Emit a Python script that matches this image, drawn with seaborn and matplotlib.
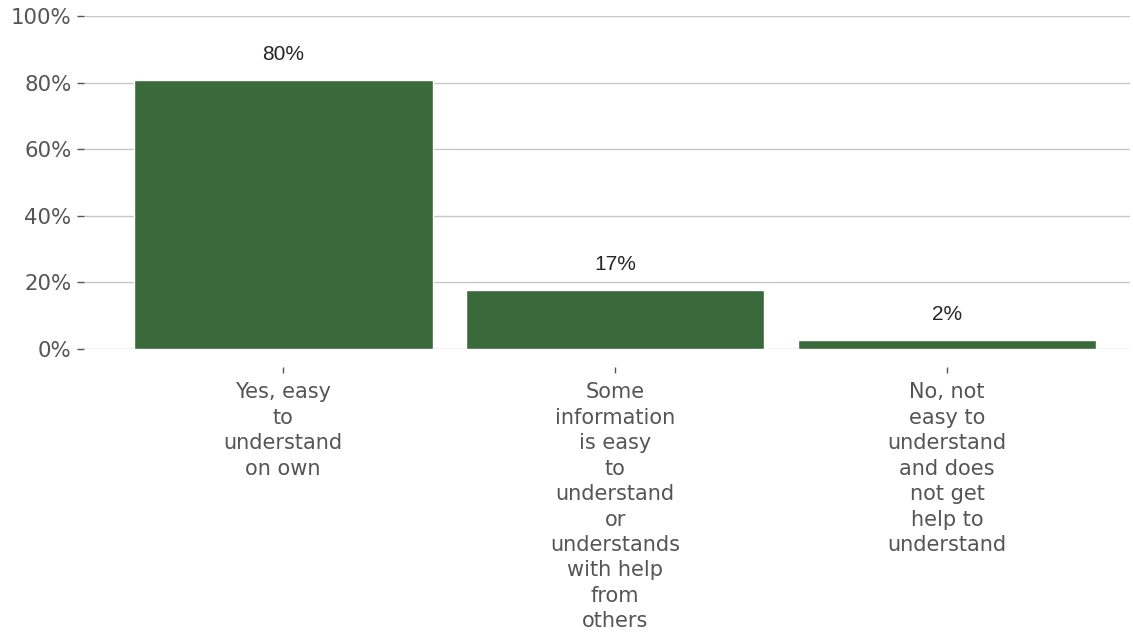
import matplotlib
matplotlib.use("Agg")
import pandas as pd
import seaborn as sns
import matplotlib.pyplot as plt
import matplotlib.ticker as ticker

categories = [
    "Yes, easy\nto\nunderstand\non own",
    "Some\ninformation\nis easy\nto\nunderstand\nor\nunderstands\nwith help\nfrom\nothers",
    "No, not\neasy to\nunderstand\nand does\nnot get\nhelp to\nunderstand",
]
values = [80.8, 17.7, 2.6]
value_labels = ["80%", "17%", "2%"]

df = pd.DataFrame({"category": categories, "share": values})

sns.set_style("white")
plt.rcParams["font.family"] = ["DejaVu Sans"]

fig = plt.figure(figsize=(11.33, 6.36), dpi=100)
ax = fig.add_axes([0.0741, 0.4513, 0.9229, 0.5237])

sns.barplot(data=df, x="category", y="share", color="#3a6a3c",
            width=0.9, saturation=1, ax=ax)

for i, (v, lab) in enumerate(zip(values, value_labels)):
    ax.text(i, v + 6, lab, ha="center", va="baseline", fontsize=15,
            color="#262626", family="Liberation Sans")

ax.set_ylim(0, 100)
ax.set_xlim(-0.6, 2.55)
ax.yaxis.set_major_locator(ticker.MultipleLocator(20))
ax.yaxis.set_major_formatter(ticker.FuncFormatter(lambda v, p: f"{v:.0f}%"))
ax.grid(axis="y", color="#c8c8c8", linewidth=1)
ax.set_axisbelow(True)
for s in ax.spines.values():
    s.set_visible(False)
# ticks sit a little below the baseline, like the original
ax.spines["bottom"].set_position(("outward", 13))

ax.tick_params(axis="y", left=True, length=5, width=1, color="#555555",
               labelsize=15.3, labelcolor="#555555", pad=4)
ax.tick_params(axis="x", bottom=True, length=4, width=1, color="#555555",
               labelsize=15, labelcolor="#555555", pad=7)
for t in ax.get_xticklabels():
    t.set_linespacing(1.34)
ax.set_xlabel("")
ax.set_ylabel("")

fig.savefig("out.png", dpi=100)
